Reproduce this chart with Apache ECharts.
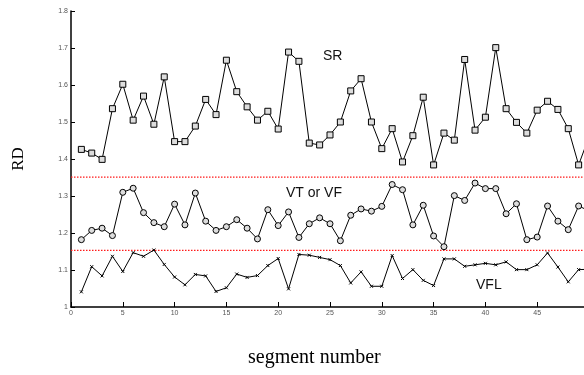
<!DOCTYPE html>
<html>
<head>
<meta charset="utf-8">
<script src="https://cdn.jsdelivr.net/npm/echarts@6/dist/echarts.min.js"></script>
<style>
  html, body { margin: 0; padding: 0; background: #fff; }
  #chart { width: 584px; height: 375px; }
</style>
</head>
<body>
<div id="chart"></div>
<script>
// segment numbers
var segments = [1, 2, 3, 4, 5, 6, 7, 8, 9, 10, 11, 12, 13, 14, 15, 16, 17, 18, 19, 20,
  21, 22, 23, 24, 25, 26, 27, 28, 29, 30, 31, 32, 33, 34, 35, 36, 37, 38, 39, 40,
  41, 42, 43, 44, 45, 46, 47, 48, 49, 50];

var srValues = [1.426, 1.416, 1.399, 1.536, 1.602, 1.505, 1.570, 1.494, 1.622, 1.447,
  1.447, 1.489, 1.561, 1.520, 1.667, 1.582, 1.541, 1.505, 1.529, 1.481,
  1.689, 1.664, 1.443, 1.438, 1.465, 1.500, 1.584, 1.617, 1.500, 1.428,
  1.482, 1.392, 1.463, 1.567, 1.384, 1.470, 1.451, 1.669, 1.478, 1.513,
  1.701, 1.536, 1.499, 1.470, 1.532, 1.556, 1.534, 1.482, 1.384, 1.460];

var vtvfValues = [1.182, 1.207, 1.213, 1.193, 1.310, 1.321, 1.255, 1.228, 1.217, 1.278,
  1.222, 1.308, 1.232, 1.207, 1.217, 1.236, 1.213, 1.184, 1.263, 1.220,
  1.257, 1.188, 1.225, 1.241, 1.225, 1.179, 1.248, 1.265, 1.259, 1.272,
  1.331, 1.317, 1.222, 1.275, 1.192, 1.163, 1.301, 1.288, 1.335, 1.320,
  1.320, 1.252, 1.279, 1.182, 1.189, 1.273, 1.232, 1.209, 1.273, 1.260];

var vflValues = [1.041, 1.109, 1.084, 1.137, 1.096, 1.147, 1.137, 1.154, 1.115, 1.081,
  1.060, 1.088, 1.084, 1.042, 1.052, 1.089, 1.080, 1.085, 1.112, 1.131,
  1.049, 1.142, 1.140, 1.134, 1.128, 1.112, 1.065, 1.095, 1.056, 1.056,
  1.139, 1.077, 1.101, 1.072, 1.058, 1.130, 1.130, 1.110, 1.114, 1.118,
  1.114, 1.122, 1.101, 1.101, 1.114, 1.146, 1.108, 1.068, 1.101, 1.102];

// red dotted threshold lines (RD levels) and the x span they cover
var thresholds = [1.351, 1.153];
var xRange = [0, 50];

function pairs(vals) {
  var out = [];
  for (var i = 0; i < segments.length; i++) {
    out.push([segments[i], vals[i]]);
  }
  return out;
}

var myChart = echarts.init(document.getElementById('chart'));

var tickFont = { color: '#555', fontSize: 7, fontFamily: 'Liberation Sans, Arial, sans-serif' };
var labelFont = 'Liberation Sans, Arial, sans-serif';
var serifFont = 'Liberation Serif, Times New Roman, serif';

var thresholdSeries = thresholds.map(function (t, k) {
  return {
    name: 'threshold' + k,
    type: 'line',
    data: [[xRange[0], t], [xRange[1], t]],
    symbol: 'none',
    silent: true,
    z: 1,
    lineStyle: { color: '#ff1a1a', type: [1.5, 1.5], width: 1.2 }
  };
});

var option = {
  animation: false,
  grid: {
    left: 71,
    right: -5,
    top: 11,
    bottom: 68,
    outerBoundsMode: 'none'
  },
  xAxis: {
    type: 'value',
    min: 0,
    max: 50,
    interval: 5,
    axisLine: { lineStyle: { color: '#000', width: 1.5 } },
    axisTick: { inside: true, length: 5, lineStyle: { color: '#000' } },
    axisLabel: Object.assign({
      margin: 3,
      formatter: function (v) { return v >= 50 ? '' : v; }
    }, tickFont),
    splitLine: { show: false }
  },
  yAxis: {
    type: 'value',
    min: 1,
    max: 1.8,
    interval: 0.1,
    name: 'RD',
    nameLocation: 'middle',
    nameRotate: 90,
    nameGap: 44,
    nameTextStyle: { fontSize: 17, color: '#000', fontFamily: serifFont },
    axisLine: { show: true, lineStyle: { color: '#000', width: 1.5 } },
    axisTick: { show: true, inside: true, length: 4, lineStyle: { color: '#000' } },
    axisLabel: Object.assign({
      margin: 3,
      formatter: function (v) { return +v.toFixed(1); }
    }, tickFont),
    splitLine: { show: false }
  },
  series: thresholdSeries.concat([
    {
      name: 'SR',
      type: 'line',
      data: pairs(srValues),
      symbol: 'rect',
      symbolSize: 6,
      lineStyle: { color: '#000', width: 1 },
      itemStyle: { color: '#ddd', borderColor: '#000', borderWidth: 1 }
    },
    {
      name: 'VT or VF',
      type: 'line',
      data: pairs(vtvfValues),
      symbol: 'circle',
      symbolSize: 6,
      lineStyle: { color: '#000', width: 1 },
      itemStyle: { color: '#ddd', borderColor: '#000', borderWidth: 1 }
    },
    {
      name: 'VFL',
      type: 'line',
      data: pairs(vflValues),
      symbol: 'path://M0,0L10,10M10,0L0,10',
      symbolSize: 3,
      lineStyle: { color: '#000', width: 1 },
      itemStyle: { color: '#000', borderColor: '#000', borderWidth: 1 }
    }
  ]),
  graphic: [
    {
      type: 'text', left: 323, top: 49,
      style: { text: 'SR', fontSize: 14, fill: '#111', fontFamily: labelFont }
    },
    {
      type: 'text', left: 286, top: 186,
      style: { text: 'VT or VF', fontSize: 14, fill: '#111', fontFamily: labelFont }
    },
    {
      type: 'text', left: 476, top: 278,
      style: { text: 'VFL', fontSize: 14, fill: '#111', fontFamily: labelFont }
    },
    {
      type: 'text', left: 248, top: 348,
      style: { text: 'segment number', fontSize: 20, fill: '#000', fontFamily: serifFont }
    }
  ]
};

myChart.setOption(option);
</script>
</body>
</html>
